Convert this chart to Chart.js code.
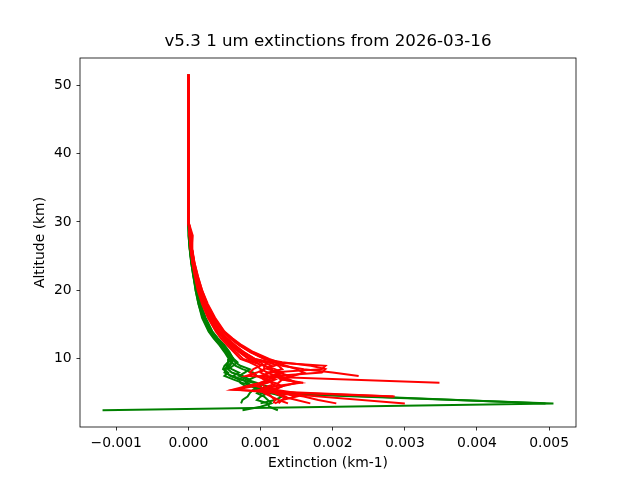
<!DOCTYPE html>
<html><head><meta charset="utf-8">
<script src="https://cdn.jsdelivr.net/npm/chart.js@4/dist/chart.umd.min.js"></script>
<style>html,body{margin:0;padding:0;background:#fff}canvas{display:block}</style>
</head><body>
<canvas id="c" width="640" height="480"></canvas>
<script>
const TITLE = "v5.3 1 um extinctions from 2026-03-16";
const X_LABEL = "Extinction (km-1)";
const Y_LABEL = "Altitude (km)";
const X_TICKS = [-0.001, 0, 0.001, 0.002, 0.003, 0.004, 0.005];
const Y_TICKS = [10, 20, 30, 40, 50];

// altitude levels (km)
const ALT = [51.5, 45, 40, 35, 30, 28, 26, 24, 22, 20, 18, 16, 14, 13, 12, 11, 10, 9.5, 9, 8.5, 8, 7.5, 7, 6.5, 6, 5.5, 5, 4.5, 4, 3.5, 3, 2.5];
// extinction values below are given in units of 1e-3 km-1
const UNIT = 1e-3;

const G1 = [0,0,0,0.001,0.004,0.01,0.025,0.05,0.08,0.11,0.15,0.21,0.31,0.38,0.46,0.53,0.58, 0.60,0.58,0.52,0.50,0.60,0.75,0.82,0.88,0.95,1.00,null,null,5.06,null,-1.19];
const G2 = [0,0,0,0.001,0.003,0.008,0.02,0.045,0.075,0.10,0.14,0.19,0.28,0.35,0.43,0.50,0.56, 0.55,0.50,0.48,0.55,0.50,0.62,0.75,0.90,1.05,1.30,null,null,4.95,null,null];
const G3 = [0,0,0,0.002,0.005,0.012,0.03,0.055,0.09,0.13,0.17,0.24,0.33,0.40,0.48,0.55,0.60, 0.65,0.72,0.85,0.78,0.70,0.80,0.95,1.00,0.90,0.85,0.82,0.75,0.73,null,null];
const G4 = [0,0,0,0.001,0.004,0.01,0.022,0.045,0.08,0.12,0.16,0.22,0.32,0.39,0.47,0.56,0.62, 0.55,0.52,0.60,0.70,0.62,0.70,0.90,1.10,1.00,0.95,1.05,1.10,1.15,1.00,0.75];
const G5 = [0,0,0,0.001,0.003,0.009,0.02,0.04,0.07,0.11,0.15,0.22,0.31,0.38,0.47,0.55,0.63, 0.68,0.62,0.55,0.60,0.75,0.85,0.80,0.85,1.20,1.10,1.00,0.95,1.10,1.12,1.24];
const G6 = [0,0,0,0.001,0.004,0.011,0.025,0.05,0.085,0.12,0.165,0.23,0.33,0.41,0.50,0.57,0.62, 0.60,0.55,0.50,0.53,0.58,0.70,0.72,0.80,null,null,null,null,null,null,null];
const G7 = [0,0,0,0.001,0.003,0.008,0.018,0.04,0.07,0.10,0.14,0.20,0.29,0.36,0.44,0.52,0.57, 0.60,0.65,0.75,0.90,0.95,0.85,0.80,0.90,1.00,1.15,1.30,1.20,1.00,null,null];

const R1 = [0,0,0,0.002,0.006,0.04,0.045,0.075,0.11,0.16,0.22,0.31,0.43,0.52,0.62,0.76,0.92, 1.15,1.90,1.85,1.15,1.00,1.10,1.05,0.95,1.10,1.30,1.60,1.80,2.05,null,null];
const R2 = [0,0,0,0.002,0.005,0.03,0.05,0.08,0.12,0.17,0.24,0.34,0.47,0.58,0.70,0.86,1.05, 1.20,1.30,1.60,2.00,2.36,null,null,null,null,null,null,null,null,null,null];
const R3 = [0,0,0,0.002,0.006,0.02,0.04,0.06,0.10,0.14,0.20,0.28,0.40,0.48,0.57,0.66,0.76, 0.90,1.05,1.05,0.95,0.80,null,3.48,null,null,null,null,null,null,null,null];
const R4 = [0,0,0,0.001,0.005,0.02,0.035,0.06,0.10,0.15,0.21,0.30,0.42,0.51,0.61,0.72,0.86, 1.10,1.25,1.30,1.10,1.20,1.30,1.59,null,null,null,null,null,null,null,null];
const R5 = [0,0,0,0.002,0.007,0.06,0.05,0.085,0.135,0.19,0.27,0.37,0.50,0.61,0.74,0.90,1.12, 1.25,1.20,1.05,1.00,1.10,1.20,1.00,0.80,0.61,null,2.86,null,null,null,null];
const R6 = [0,0,0,0.001,0.004,0.015,0.03,0.055,0.09,0.13,0.19,0.27,0.38,0.45,0.54,0.63,0.72, 0.85,0.95,1.00,1.10,1.05,1.20,1.10,0.90,0.65,null,null,null,3.00,null,null];
const R7 = [0,0,0,0.002,0.006,0.025,0.045,0.07,0.11,0.16,0.23,0.32,0.44,0.53,0.64,0.77,0.92, 1.10,1.05,1.15,1.20,1.30,1.10,1.00,1.05,1.10,1.20,1.30,1.50,1.69,null,null];
const R8 = [0,0,0,0.002,0.005,0.02,0.04,0.065,0.10,0.15,0.21,0.29,0.41,0.49,0.59,0.70,0.84, 1.00,1.05,1.20,1.30,1.15,1.05,1.15,1.20,1.00,1.05,1.15,1.25,1.38,null,null];
const R9 = [0,0,0,0.001,0.004,0.03,0.05,0.075,0.12,0.17,0.23,0.32,0.44,0.54,0.65,0.76,0.90, 1.05,1.15,1.10,1.25,1.40,1.30,1.25,1.10,1.20,1.10,1.15,1.20,1.18,null,null];
const R10 = [0,0,0,0.002,0.006,0.035,0.05,0.08,0.125,0.18,0.255,0.35,0.48,0.58,0.71,0.86,1.05, 1.30,1.70,1.90,1.85,1.20,1.40,1.50,1.30,1.20,1.50,2.84,null,null,null,null];
const R11 = [0,0,0,0.001,0.005,0.02,0.035,0.06,0.095,0.14,0.20,0.29,0.41,0.50,0.60,0.71,0.83, 0.95,1.00,0.90,0.85,0.95,1.05,1.20,1.30,1.15,1.20,1.35,1.30,1.20,null,null];
const R12 = [0,0,0,0.002,0.007,0.045,0.055,0.085,0.13,0.19,0.26,0.36,0.49,0.60,0.72,0.88,1.10, 1.20,1.35,1.50,1.60,1.45,1.30,1.55,1.20,1.00,1.30,1.50,1.30,1.25,null,null];

const GREEN_PROFILES = [G1, G2, G3, G4, G5, G6, G7];
const RED_PROFILES = [R1, R2, R3, R4, R5, R6, R7, R8, R9, R10, R11, R12];

function toPoints(p) {
  const pts = [];
  for (let i = 0; i < ALT.length; i++) {
    if (p[i] !== null && p[i] !== undefined) pts.push({x: p[i] * UNIT, y: ALT[i]});
  }
  return pts;
}
function mkDataset(p, color) {
  return {data: toPoints(p), borderColor: color, backgroundColor: color, borderWidth: 2,
    showLine: true, pointRadius: 0, pointHoverRadius: 0, fill: false, tension: 0};
}
// Chart.js paints the first dataset last, so red (on top) goes first
const datasets = [];
RED_PROFILES.forEach(p => datasets.push(mkDataset(p, '#ff0000')));
GREEN_PROFILES.forEach(p => datasets.push(mkDataset(p, '#008000')));

// matplotlib-like 5% margins from data extents
let xs = [], ys = [];
datasets.forEach(d => d.data.forEach(pt => { xs.push(pt.x); ys.push(pt.y); }));
const xMin0 = Math.min(...xs), xMax0 = Math.max(...xs);
const yMin0 = Math.min(...ys), yMax0 = Math.max(...ys);
const xm = (xMax0 - xMin0) * 0.05, ym = (yMax0 - yMin0) * 0.05;

const FONT = 'DejaVu Sans';
const fmtX = v => { const s = Number(v).toFixed(3); return s.replace('-', '\u2212'); };

const framePlugin = {
  id: 'frame',
  afterDraw(chart) {
    const {ctx, chartArea: a} = chart;
    ctx.save();
    ctx.strokeStyle = '#000';
    ctx.lineWidth = 0.8;
    ctx.strokeRect(a.left, a.top, a.right - a.left, a.bottom - a.top);
    ctx.fillStyle = '#000';
    ctx.font = '16.67px "' + FONT + '"';
    ctx.textAlign = 'center';
    ctx.textBaseline = 'alphabetic';
    ctx.fillText(TITLE, (a.left + a.right) / 2, 46);
    ctx.restore();
  }
};

new Chart(document.getElementById('c'), {
  type: 'scatter',
  data: {datasets},
  options: {
    responsive: false, animation: false, devicePixelRatio: 1,
    layout: {padding: {left: 0, right: 64, top: 58, bottom: 0}},
    plugins: {legend: {display: false}, tooltip: {enabled: false}, title: {display: false}},
    scales: {
      x: {
        type: 'linear', min: xMin0 - xm, max: xMax0 + xm,
        afterBuildTicks: s => { s.ticks = X_TICKS.map(v => ({value: v})); },
        afterFit: s => { s.height = 53; },
        border: {display: false},
        grid: {display: true, drawOnChartArea: false, drawTicks: true, tickLength: 3.5, color: '#000', lineWidth: 0.8},
        ticks: {autoSkip: false, maxRotation: 0, color: '#000', padding: 4.9, font: {family: FONT, size: 13.9}, callback: v => fmtX(v)},
        title: {display: true, text: X_LABEL, color: '#000', font: {family: FONT, size: 13.9}, padding: {top: 0, bottom: 8.5}}
      },
      y: {
        type: 'linear', min: yMin0 - ym, max: yMax0 + ym,
        afterBuildTicks: s => { s.ticks = Y_TICKS.map(v => ({value: v})); },
        afterFit: s => { s.width = 80; },
        border: {display: false},
        grid: {display: true, drawOnChartArea: false, drawTicks: true, tickLength: 3.5, color: '#000', lineWidth: 0.8},
        ticks: {autoSkip: false, color: '#000', padding: 4.9, font: {family: FONT, size: 13.9}, callback: v => String(v)},
        title: {display: true, text: Y_LABEL, color: '#000', font: {family: FONT, size: 13.9}, padding: {top: 32, bottom: 0}}
      }
    }
  },
  plugins: [framePlugin]
});
</script>
</body></html>
